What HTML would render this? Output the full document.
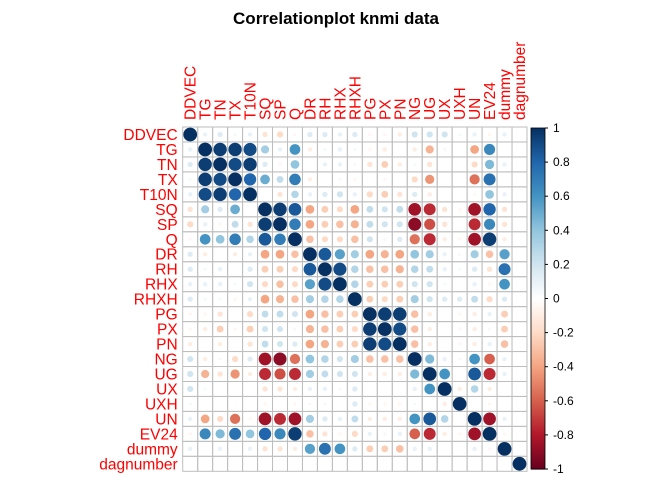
<!DOCTYPE html>
<html><head><meta charset="utf-8"><style>
body{margin:0;background:#fff;font-family:"Liberation Sans",sans-serif}
svg text{font-family:"Liberation Sans",sans-serif}
</style></head><body>
<svg id="chart" width="672" height="480" xmlns="http://www.w3.org/2000/svg">
<text x="336" y="24" text-anchor="middle" font-size="17" font-weight="bold">Correlationplot knmi data</text>
<g id="cells"></g><g id="labels"></g><g id="legend"></g>
</svg>
<script>
const vars=["DDVEC","TG","TN","TX","T10N","SQ","SP","Q","DR","RH","RHX","RHXH","PG","PX","PN","NG","UG","UX","UXH","UN","EV24","dummy","dagnumber"];
// upper triangle rows (values to the right of diagonal)
const upper=[
[.1,.15,.05,.1,-.15,-.2,-.05,.15,.15,.1,.15,-.05,-.05,-.1,.2,.2,.2,.05,.1,-.05,.1,0],
[.95,.95,.9,.35,.1,.6,-.1,.05,.1,.05,-.05,-.1,0,-.1,-.35,.05,0,-.4,.65,0,0],
[.9,.95,.15,-.05,.4,0,.1,.1,.05,-.15,-.25,-.1,.05,-.15,0,0,-.2,.45,.1,0],
[.8,.5,.25,.7,-.1,0,.05,-.05,0,-.05,0,-.2,-.45,0,0,-.55,.75,0,0],
[0,-.15,.3,.1,.15,.2,.1,-.2,-.25,-.15,.15,-.1,0,0,-.05,.4,.1,0],
[.95,.85,-.4,-.25,-.2,-.4,.25,.2,.25,-.85,-.75,-.15,-.05,-.85,.8,-.15,0],
[.7,-.4,-.25,-.3,-.35,.25,.2,.2,-.9,-.65,-.15,0,-.75,.65,-.15,0],
[-.3,-.2,-.2,-.3,.2,.05,.15,-.55,-.75,-.1,-.05,-.85,.95,-.1,0],
[.85,.55,.35,-.4,-.35,-.4,.4,.35,.1,.05,.35,-.3,.55,0],
[.9,.3,-.3,-.3,-.35,.3,.25,.1,.05,.15,-.15,.75,0],
[.3,-.25,-.25,-.25,.2,.2,.05,0,.1,-.05,.6,0],
[-.25,-.2,-.25,.35,.2,.15,.15,.25,-.2,.15,0],
[.95,.95,-.3,-.1,0,-.05,-.1,.1,-.25,0],
[.9,-.3,-.1,0,-.05,-.1,.05,-.25,0],
[-.3,-.1,0,-.05,-.1,.1,-.3,0],
[.45,.1,.05,.6,-.6,.1,0],
[.6,0,.85,-.75,.1,0],
[-.1,.3,-.1,0,0],
[0,-.05,0,0],
[-.85,.1,0],
[-.05,0],
[0]];
const legendTicks=[1,0.8,0.6,0.4,0.2,0,-0.2,-0.4,-0.6,-0.8,-1];
const pal=["#67001F","#B2182B","#D6604D","#F4A582","#FDDBC7","#FFFFFF","#D1E5F0","#92C5DE","#4393C3","#2166AC","#053061"];
const n=vars.length, X0=182.7, Y0=127, C=(527-182.7)/n;
function hex(h){return [1,3,5].map(i=>parseInt(h.substr(i,2),16));}
function col(v){const t=(v+1)/2*10;const i=Math.min(9,Math.floor(t));const f=t-i;const a=hex(pal[i]),b=hex(pal[i+1]);return "rgb("+a.map((x,k)=>Math.round(x+(b[k]-x)*f)).join(",")+")";}
function xS(j){return X0+j*C;} function yS(i){return Y0+i*C;}
function val(i,j){if(i===j)return 1;if(i>j){const t=i;i=j;j=t;}return upper[i][j-i-1];}
const NS="http://www.w3.org/2000/svg";
const g=document.getElementById("cells");
for(let i=0;i<n;i++)for(let j=0;j<n;j++){
 const r=document.createElementNS(NS,"rect");
 r.setAttribute("x",xS(j));r.setAttribute("y",yS(i));r.setAttribute("width",C);r.setAttribute("height",C);
 r.setAttribute("fill","none");r.setAttribute("stroke","#BEBEBE");r.setAttribute("stroke-width","1");
 
 
 g.appendChild(r);
 const v=val(i,j);
 const c=document.createElementNS(NS,"circle");
 c.setAttribute("cx",xS(j)+C/2);c.setAttribute("cy",yS(i)+C/2);c.setAttribute("r",0.46*C*Math.sqrt(Math.abs(v)));
 c.setAttribute("fill",col(v));
 
 
 g.appendChild(c);
}
const L=document.getElementById("labels");
vars.forEach((name,k)=>{
 const t=document.createElementNS(NS,"text");
 t.setAttribute("x",X0-5);t.setAttribute("y",yS(k)+C/2+5.5);t.setAttribute("text-anchor","end");
 t.setAttribute("font-size","15.5");t.setAttribute("fill","#FF0000");t.textContent=name;
 
 
 L.appendChild(t);
 const u=document.createElementNS(NS,"text");
 const cx=xS(k)+C/2+5.5,cy=Y0-7;
 u.setAttribute("x",cx);u.setAttribute("y",cy);u.setAttribute("transform","rotate(-90 "+cx+" "+cy+")");
 u.setAttribute("font-size","15.5");u.setAttribute("fill","#FF0000");u.textContent=name;
 
 
 L.appendChild(u);
});
const G=document.getElementById("legend");
const LX=531,LW=14,LT=128,LB=469;
for(let s=0;s<200;s++){
 const v=1-(s+0.5)/100;
 const r=document.createElementNS(NS,"rect");
 r.setAttribute("x",LX);r.setAttribute("y",LT+s*(LB-LT)/200);r.setAttribute("width",LW);r.setAttribute("height",(LB-LT)/200+0.6);
 r.setAttribute("fill",col(v));
 
 
 G.appendChild(r);
}
const fr=document.createElementNS(NS,"rect");
fr.setAttribute("x",LX);fr.setAttribute("y",LT);fr.setAttribute("width",LW);fr.setAttribute("height",LB-LT);fr.setAttribute("fill","none");fr.setAttribute("stroke","#000");fr.setAttribute("stroke-width","0.8");


G.appendChild(fr);
legendTicks.forEach(v=>{
 const y=LT+(1-v)/2*(LB-LT);
 const ln=document.createElementNS(NS,"line");
 ln.setAttribute("x1",LX+LW);ln.setAttribute("x2",LX+LW+3);ln.setAttribute("y1",y);ln.setAttribute("y2",y);ln.setAttribute("stroke","#000");
 
 
 G.appendChild(ln);
 const t=document.createElementNS(NS,"text");
 t.setAttribute("x",LX+LW+8);t.setAttribute("y",y+4);t.setAttribute("font-size","12");t.textContent=String(v);
 
 
 G.appendChild(t);
});
</script>
</body></html>
